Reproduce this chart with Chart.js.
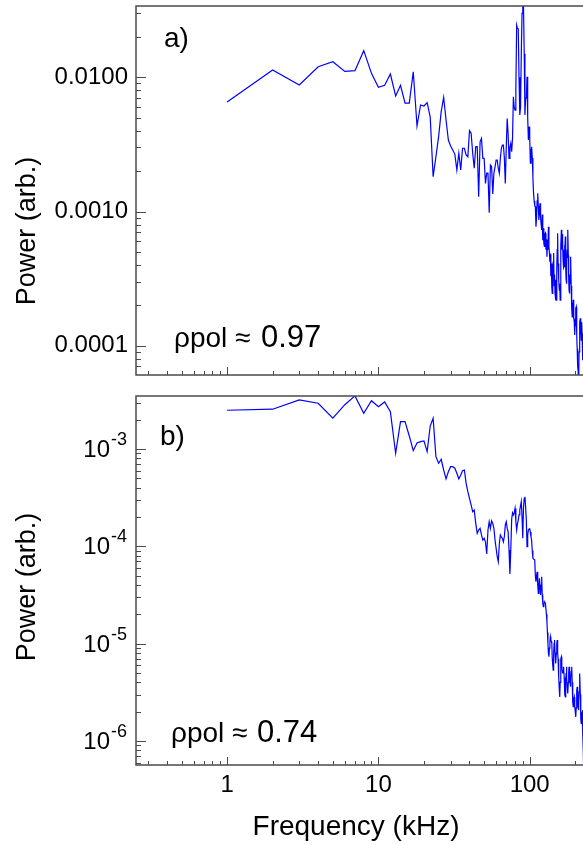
<!DOCTYPE html>
<html>
<head>
<meta charset="utf-8">
<script src="https://cdn.jsdelivr.net/npm/chart.js@4/dist/chart.umd.min.js"></script>
<style>
  html, body { margin: 0; padding: 0; background: #fff; overflow: hidden; }
  #wrap { position: relative; width: 583px; height: 845px; overflow: hidden; background: #fff; }
  #wrap canvas { position: absolute; left: 0; }
  #topChart { top: 0; }
  #bottomChart { top: 380px; }
</style>
</head>
<body>
<div id="wrap">
  <canvas id="topChart" width="700" height="380"></canvas>
  <canvas id="bottomChart" width="700" height="465"></canvas>
</div>
<script>
// frequency bins (kHz)
const freq = [
  1,2,3,4,5,6,7,8,9,10,11,12,13,14,15,16,17,18,19,20,
  21,22,23,24,25,26,27,28,29,30,31,32,33,34,35,36,37,38,39,40,
  41,42,43,44,45,46,47,48,49,50,51,52,53,54,55,56,57,58,59,60,
  61,62,63,64,65,66,67,68,69,70,71,72,73,74,75,76,77,78,79,80,
  81,82,83,84,85,86,87,88,89,90,91,92,93,94,95,96,97,98,99,100,
  101,102,103,104,105,106,107,108,109,110,111,112,113,114,115,116,117,118,119,120,
  121,122,123,124,125,126,127,128,129,130,131,132,133,134,135,136,137,138,139,140,
  141,142,143,144,145,146,147,148,149,150,151,152,153,154,155,156,157,158,159,160,
  161,162,163,164,165,166,167,168,169,170,171,172,173,174,175,176,177,178,179,180,
  181,182,183,184,185,186,187,188,189,190,191,192,193,194,195,196,197,198,199,200,
  201,202,203,204,205,206,207,208,209,210,211,212,213,214,215,216,217,218,219,220,
  221,222,223,224,225,226,227,228,229,230,231,232,233
];

// panel a) power, rho_pol ~ 0.97
const powerA = [
  0.00654,0.01133,0.00877,0.0120,0.01306,0.01108,0.0112,0.0158,0.01071,0.00842,
  0.00871,0.01058,0.00726,0.00871,0.00643,0.00643,0.01101,0.00434,0.00622,0.00611,
  0.00647,0.00508,0.00182,0.00256,0.00361,0.00555,0.00710,0.00481,0.00341,0.00308,
  0.00287,0.00268,0.00204,0.00272,0.00204,0.00296,0.00296,0.00264,0.00256,0.00400,
  0.00383,0.00272,0.00210,0.00304,0.00304,0.00129,0.00331,0.00351,0.00249,0.00249,
  0.00162,0.00193,0.00193,0.00098,0.00222,0.00216,0.00135,0.00193,0.00215,0.00242,
  0.00242,0.0021,0.00193,0.0025,0.00296,0.00313,0.00313,0.0025,0.00162,0.0030,
  0.00494,0.0038,0.00249,0.0030,0.00322,0.00279,0.0035,0.00716,0.0060,0.0057,
  0.0080,0.0245,0.0232,0.0230,0.0100,0.00524,0.0060,0.0150,0.0300,0.0346,
  0.0336,0.0150,0.00524,0.0070,0.0070,0.0101,0.0050,0.00341,0.00429,0.0036,
  0.00229,0.0028,0.00304,0.0025,0.0018,0.00137,0.0012,0.0011,0.00109,0.00077,
  0.0009,0.0012,0.00137,0.0011,0.000865,0.0010,0.00115,0.0009,0.0008,0.00073,
  0.00095,0.00061,0.00075,0.00058,0.00055,0.00068,0.00069,0.00052,0.00062,0.00046,
  0.00058,0.00052,0.00077,0.00055,0.00049,0.00042,0.00048,0.00033,0.00041,0.00027,
  0.000245,0.00036,0.00042,0.00049,0.00028,0.00034,0.000245,0.00031,0.00022,0.000219,
  0.00038,0.00052,0.00069,0.00041,0.00033,0.00031,0.00026,0.00029,0.000219,0.00034,
  0.00055,0.00073,0.00052,0.00068,0.00061,0.00045,0.00052,0.00038,0.00039,0.00056,
  0.00048,0.00065,0.00038,0.00031,0.00029,0.00044,0.00052,0.00045,0.00073,0.00047,
  0.00032,0.00026,0.000245,0.00034,0.00029,0.00042,0.00046,0.00028,0.00021,0.00019,
  0.000164,0.00021,0.00018,0.00022,0.000219,0.00016,0.00015,0.00012,0.000124,0.00016,
  0.00014,0.00019,0.000195,0.00013,0.00012,0.000095,0.000093,0.00007,0.000065,0.00005,
  0.000045,0.00009,0.00012,0.00011,0.00015,0.00016,0.00012,0.00014,0.00011,0.00013,
  0.00015,0.000124,0.0001,0.00008,0.000078,0.00009
];

// panel b) power, rho_pol ~ 0.74
const powerB = [
  2.50e-3,2.56e-3,3.19e-3,2.95e-3,2.07e-3,2.85e-3,3.51e-3,2.33e-3,3.13e-3,2.72e-3,
  3.04e-3,2.42e-3,9.03e-4,1.91e-3,1.91e-3,1.36e-3,9.61e-4,1.15e-3,1.19e-3,1.21e-3,
  9.38e-4,1.72e-3,2.07e-3,8.33e-4,7.13e-4,7.84e-4,6.08e-4,4.92e-4,5.84e-4,6.58e-4,
  6.58e-4,6.34e-4,5.62e-4,4.92e-4,5.41e-4,5.98e-4,6.08e-4,4.44e-4,3.64e-4,3.11e-4,
  2.66e-4,2.27e-4,2.36e-4,1.72e-4,1.36e-4,1.47e-4,1.53e-4,1.31e-4,1.16e-4,1.21e-4,
  1.11e-4,8.33e-5,1.47e-4,1.79e-4,1.53e-4,1.83e-4,1.72e-4,1.53e-4,1.16e-4,9.54e-5,
  7.82e-5,6.95e-5,1.07e-4,1.31e-4,1.24e-4,1.21e-4,1.11e-4,1.26e-4,1.66e-4,1.79e-4,
  1.53e-4,1.41e-4,9.16e-5,5.19e-5,9.16e-5,1.9e-4,2.21e-4,2.1e-4,2.2e-4,2.45e-4,
  1.8e-4,1.47e-4,1.7e-4,1.86e-4,2.1e-4,2.36e-4,2.6e-4,2.88e-4,2.0e-4,1.21e-4,
  2.5e-4,3.11e-4,3.23e-4,2.5e-4,1.86e-4,9.9e-5,1.3e-4,1.47e-4,1.5e-4,1.53e-4,
  1.4e-4,1.25e-4,1.16e-4,9.0e-5,7.52e-5,7.4e-5,7.3e-5,7.23e-5,5.0e-5,4.33e-5,
  5.0e-5,5.48e-5,4.0e-5,3.29e-5,4.0e-5,4.69e-5,3.8e-5,3.16e-5,4.0e-5,4.88e-5,
  3.2e-5,2.6e-5,2.4e-5,2.5e-5,2.7e-5,2.65e-5,2.6e-5,2.6e-5,2.0e-5,1.68e-5,
  1.3e-5,1.0e-5,8.0e-6,7.33e-6,9.0e-6,1.05e-5,1.18e-5,1.1e-5,1.05e-5,1.01e-5,
  7.0e-6,6.0e-6,5.36e-6,8.0e-6,1.0e-5,1.09e-5,8.0e-6,7.0e-6,6.26e-6,8.0e-6,
  1.0e-5,1.09e-5,8.0e-6,7.0e-6,6.78e-6,4.5e-6,3.3e-6,2.84e-6,4.0e-6,5.5e-6,
  7.0e-6,7.33e-6,6.0e-6,5.3e-6,4.95e-6,5.3e-6,5.6e-6,5.8e-6,4.5e-6,3.5e-6,
  3.0e-6,2.84e-6,4.0e-6,5.0e-6,5.8e-6,4.5e-6,3.6e-6,3.2e-6,3.08e-6,4.0e-6,
  5.0e-6,5.8e-6,5.0e-6,4.3e-6,3.9e-6,3.61e-6,4.5e-6,5.2e-6,5.8e-6,5.8e-6,
  4.0e-6,3.0e-6,2.5e-6,2.25e-6,2.5e-6,2.7e-6,2.84e-6,2.84e-6,2.3e-6,2.0e-6,
  1.8e-6,1.77e-6,2.2e-6,2.8e-6,3.3e-6,3.61e-6,3.0e-6,2.5e-6,2.2e-6,2.08e-6,
  2.6e-6,3.2e-6,4.0e-6,4.95e-6,4.95e-6,3.0e-6,2.0e-6,1.7e-6,1.52e-6,1.6e-6,
  1.8e-6,2.0e-6,2.08e-6,2.08e-6,1.2e-6,8.0e-7,5.9e-7,5.0e-7,8.0e-7,1.2e-6,
  1.5e-6,1.64e-6,1.64e-6
];

// axis ticks
const xMajorTicks = [1, 10, 100, 1000];
const xMinorTicks = [0.3,0.4,0.5,0.6,0.7,0.8,0.9, 2,3,4,5,6,7,8,9, 20,30,40,50,60,70,80,90, 200,300,400,500,600,700,800,900];
const xTickLabels = ['1', '10', '100', ''];

const yMajorA = [1e-4, 1e-3, 1e-2];
const yMinorA = [7e-5,8e-5,9e-5, 2e-4,3e-4,4e-4,5e-4,6e-4,7e-4,8e-4,9e-4, 2e-3,3e-3,4e-3,5e-3,6e-3,7e-3,8e-3,9e-3, 2e-2,3e-2];
const yLabelsA = ['0.0001', '0.0010', '0.0100'];

const yMajorB = [1e-6, 1e-5, 1e-4, 1e-3];
const yMinorB = [6e-7,7e-7,8e-7,9e-7, 2e-6,3e-6,4e-6,5e-6,6e-6,7e-6,8e-6,9e-6, 2e-5,3e-5,4e-5,5e-5,6e-5,7e-5,8e-5,9e-5, 2e-4,3e-4,4e-4,5e-4,6e-4,7e-4,8e-4,9e-4, 2e-3,3e-3];
const yExpB = ['-6', '-5', '-4', '-3'];

const FONT = '"Liberation Sans", Arial, Helvetica, sans-serif';
const LINE_COLOR = '#0000ff';
const FRAME_COLOR = '#4a4a4a';

function matchTick(v, list) {
  return list.findIndex(t => Math.abs(t - v) / t < 1e-6);
}

// frame + inward tick marks + annotations
function makeOverlay(cfg) {
  return {
    id: 'overlay_' + cfg.name,
    afterDraw(chart) {
      const ctx = chart.ctx;
      const a = chart.chartArea;
      const xs = chart.scales.x, ys = chart.scales.y;
      ctx.save();
      ctx.strokeStyle = FRAME_COLOR;
      ctx.lineWidth = 1.5;
      ctx.strokeRect(a.left, a.top, a.right - a.left, a.bottom - a.top);

      ctx.lineWidth = 1;
      ctx.beginPath();
      const tickY = (v, len) => {
        const p = Math.round(ys.getPixelForValue(v)) + 0.5;
        if (p < a.top || p > a.bottom) return;
        ctx.moveTo(a.left, p); ctx.lineTo(a.left + len, p);
      };
      const tickX = (v, len) => {
        const p = Math.round(xs.getPixelForValue(v)) + 0.5;
        if (p < a.left || p > a.right) return;
        ctx.moveTo(p, a.bottom); ctx.lineTo(p, a.bottom - len);
      };
      cfg.yMajor.forEach(v => tickY(v, 10));
      cfg.yMinor.forEach(v => tickY(v, 5));
      xMajorTicks.forEach(v => tickX(v, 8));
      xMinorTicks.forEach(v => tickX(v, 4));
      ctx.stroke();

      ctx.fillStyle = '#000';
      ctx.textBaseline = 'alphabetic';
      ctx.textAlign = 'left';
      // panel letter
      ctx.font = '28px ' + FONT;
      ctx.fillText(cfg.letter, cfg.letterX, cfg.letterY);
      // rho_pol annotation
      ctx.font = '28px ' + FONT;
      ctx.fillText('\u03C1pol \u2248', cfg.rhoX, cfg.rhoY);
      ctx.font = '31px ' + FONT;
      ctx.fillText(cfg.rhoVal, cfg.rhoValX, cfg.rhoY);

      // superscript tick labels (panel b)
      if (cfg.expLabels) {
        cfg.yMajor.forEach((v, i) => {
          const p = ys.getPixelForValue(v);
          ctx.font = '18px ' + FONT;
          ctx.textAlign = 'right';
          ctx.fillText(cfg.expLabels[i], 127, p - 4);
          const ew = ctx.measureText(cfg.expLabels[i]).width;
          ctx.font = '24px ' + FONT;
          ctx.fillText('10', 127 - ew - 1, p + 8);
        });
      }

      // y title
      ctx.save();
      ctx.font = '27px ' + FONT;
      ctx.textAlign = 'center';
      ctx.textBaseline = 'middle';
      ctx.translate(28, cfg.yTitleY);
      ctx.rotate(-Math.PI / 2);
      ctx.fillText('Power (arb.)', 0, 0);
      ctx.restore();

      if (cfg.xTitle) {
        ctx.font = '28px ' + FONT;
        ctx.textAlign = 'center';
        ctx.textBaseline = 'middle';
        ctx.fillText(cfg.xTitle, 356, cfg.xTitleY);
      }
      ctx.restore();
    }
  };
}

function buildChart(canvasId, values, yMin, yMax, padTop, xHeight, showXLabels, yLabels, yMajor, overlay) {
  const pts = values.map((v, i) => ({ x: freq[i], y: v }));
  return new Chart(document.getElementById(canvasId), {
    type: 'line',
    data: {
      datasets: [{
        data: pts,
        borderColor: LINE_COLOR,
        borderWidth: 1.2,
        pointRadius: 0,
        tension: 0,
        fill: false
      }]
    },
    options: {
      responsive: false,
      animation: false,
      devicePixelRatio: 1,
      events: [],
      layout: { padding: { top: padTop, right: 19, left: 0, bottom: 0 } },
      plugins: { legend: { display: false }, tooltip: { enabled: false } },
      scales: {
        x: {
          type: 'logarithmic',
          min: 0.25,
          max: 1000,
          grid: { display: false, drawTicks: false },
          border: { display: false },
          ticks: {
            display: showXLabels,
            autoSkip: false,
            maxRotation: 0,
            minRotation: 0,
            padding: 6,
            color: '#000',
            font: { family: FONT, size: 24 },
            callback: (v) => {
              const i = matchTick(v, xMajorTicks);
              return i >= 0 ? xTickLabels[i] : '';
            }
          },
          afterFit: (s) => {
            s.height = xHeight;
            s.paddingLeft = 0; s.paddingRight = 0; s.paddingTop = 0; s.paddingBottom = 0;
          }
        },
        y: {
          type: 'logarithmic',
          min: yMin,
          max: yMax,
          grid: { display: false, drawTicks: false },
          border: { display: false },
          ticks: {
            autoSkip: false,
            padding: 8,
            color: '#000',
            font: { family: FONT, size: 24 },
            callback: (v) => {
              if (!yLabels) return '';
              const i = matchTick(v, yMajor);
              return i >= 0 ? yLabels[i] : '';
            }
          },
          afterFit: (s) => {
            s.width = 136;
            s.paddingLeft = 0; s.paddingRight = 0; s.paddingTop = 0; s.paddingBottom = 0;
          }
        }
      }
    },
    plugins: [overlay]
  });
}

buildChart('topChart', powerA, 6.05e-5, 0.034, 6, 5, false, yLabelsA, yMajorA,
  makeOverlay({
    name: 'a', yMajor: yMajorA, yMinor: yMinorA,
    letter: 'a)', letterX: 164, letterY: 47,
    rhoX: 174, rhoY: 347, rhoValX: 261, rhoVal: '0.97',
    yTitleY: 231
  }));

buildChart('bottomChart', powerB, 5.67e-7, 3.5e-3, 16, 80, true, null, yMajorB,
  makeOverlay({
    name: 'b', yMajor: yMajorB, yMinor: yMinorB, expLabels: yExpB,
    letter: 'b)', letterX: 160, letterY: 65,
    rhoX: 171, rhoY: 362, rhoValX: 257, rhoVal: '0.74',
    yTitleY: 207, xTitle: 'Frequency (kHz)', xTitleY: 447
  }));
</script>
</body>
</html>
